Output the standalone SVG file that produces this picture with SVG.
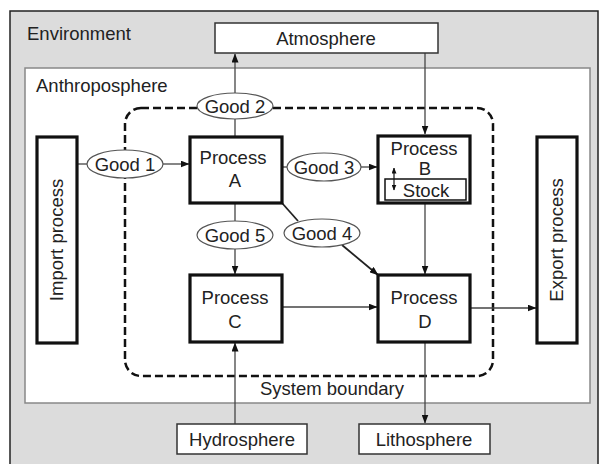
<svg xmlns="http://www.w3.org/2000/svg" width="599" height="464" viewBox="0 0 599 464">
<defs>
<marker id="ah" markerWidth="9" markerHeight="7" refX="8.5" refY="3.5" orient="auto" markerUnits="userSpaceOnUse">
<path d="M0,0 L9,3.5 L0,7 Z" fill="#111"/>
</marker>
<marker id="sh" markerWidth="6" markerHeight="5" refX="5.5" refY="2.5" orient="auto-start-reverse" markerUnits="userSpaceOnUse">
<path d="M0,0 L6,2.5 L0,5 Z" fill="#111"/>
</marker>
</defs>
<style>
text{font-family:"Liberation Sans",Arial,sans-serif;font-size:18.5px;fill:#222}
.c{text-anchor:middle}
.proc{fill:#fff;stroke:#111;stroke-width:3.2}
.sph{fill:#fff;stroke:#333;stroke-width:1.5}
.good{fill:#fff;stroke:#555;stroke-width:1.2}
.ln{fill:none;stroke:#444;stroke-width:1.3}
.lt{fill:none;stroke:#222;stroke-width:1.8}
</style>
<rect x="0" y="0" width="599" height="464" fill="#fff"/>
<g id="environment">
<rect x="10" y="11" width="588" height="460" fill="#dcdcdc" stroke="#222" stroke-width="1.5"/>
<text x="27" y="40">Environment</text>
</g>
<g id="anthroposphere">
<rect x="25" y="68" width="565" height="335" fill="#fff" stroke="#888" stroke-width="1.5"/>
<text x="36" y="92">Anthroposphere</text>
</g>
<g id="system-boundary">
<rect x="125" y="108" width="368" height="268" rx="16" ry="16" fill="none" stroke="#111" stroke-width="2.5" stroke-dasharray="8,4"/>
<text class="c" x="332" y="395">System boundary</text>
</g>
<g id="connectors">
<line class="ln" x1="235" y1="93" x2="235" y2="54" marker-end="url(#ah)"/>
<line class="ln" x1="235" y1="137" x2="235" y2="119"/>
<line class="ln" x1="425" y1="53" x2="425" y2="134" marker-end="url(#ah)"/>
<line class="ln" x1="77" y1="164" x2="87" y2="164"/>
<line class="ln" x1="163" y1="164" x2="189" y2="164" marker-end="url(#ah)"/>
<line class="ln" x1="282" y1="167" x2="287" y2="167"/>
<line class="ln" x1="361" y1="167" x2="377" y2="167" marker-end="url(#ah)"/>
<line class="ln" x1="235" y1="203" x2="235" y2="221"/>
<line class="ln" x1="235" y1="249" x2="235" y2="274" marker-end="url(#ah)"/>
<line class="lt" x1="282" y1="203" x2="298" y2="221"/>
<line class="lt" x1="342" y1="245" x2="378" y2="275" marker-end="url(#ah)"/>
<line class="ln" x1="425" y1="203" x2="425" y2="274" marker-end="url(#ah)"/>
<line class="ln" x1="282" y1="307" x2="377" y2="307" marker-end="url(#ah)"/>
<line class="ln" x1="470" y1="308" x2="536" y2="308" marker-end="url(#ah)"/>
<line class="ln" x1="425" y1="342" x2="425" y2="423" marker-end="url(#ah)"/>
<line class="ln" x1="235" y1="424" x2="235" y2="343" marker-end="url(#ah)"/>
</g>
<g id="atmosphere">
<rect class="sph" x="215" y="23" width="223" height="30"/>
<text class="c" x="326" y="45">Atmosphere</text>
</g>
<g id="hydrosphere">
<rect class="sph" x="177" y="424" width="130" height="30"/>
<text class="c" x="242" y="446">Hydrosphere</text>
</g>
<g id="lithosphere">
<rect class="sph" x="359" y="424" width="131" height="30"/>
<text class="c" x="424" y="446">Lithosphere</text>
</g>
<g id="import-process">
<rect class="proc" x="37" y="137" width="40" height="206"/>
<text class="c" transform="translate(63,240) rotate(-90)">Import process</text>
</g>
<g id="export-process">
<rect class="proc" x="537" y="137" width="40" height="206"/>
<text class="c" transform="translate(563,240) rotate(-90)">Export process</text>
</g>
<g id="process-a">
<rect class="proc" x="190" y="137" width="92" height="66"/>
<text class="c" x="233" y="164">Process</text>
<text class="c" x="235" y="187">A</text>
</g>
<g id="process-b">
<rect class="proc" x="378" y="136" width="92" height="67"/>
<text class="c" x="424" y="155">Process</text>
<text class="c" x="425" y="175">B</text>
<rect x="385" y="179" width="81" height="21" fill="none" stroke="#111" stroke-width="1.5"/>
<text class="c" x="426" y="197">Stock</text>
<line x1="394" y1="168" x2="394" y2="190" stroke="#111" stroke-width="1.2" marker-start="url(#sh)" marker-end="url(#sh)"/>
</g>
<g id="process-c">
<rect class="proc" x="190" y="275" width="92" height="67"/>
<text class="c" x="235" y="304">Process</text>
<text class="c" x="235" y="328">C</text>
</g>
<g id="process-d">
<rect class="proc" x="378" y="275" width="92" height="67"/>
<text class="c" x="424" y="304">Process</text>
<text class="c" x="425" y="328">D</text>
</g>
<g id="good-1">
<ellipse class="good" cx="125" cy="164" rx="38" ry="14"/>
<text class="c" x="125" y="171">Good 1</text>
</g>
<g id="good-2">
<ellipse class="good" cx="235" cy="106" rx="38" ry="13"/>
<text class="c" x="235" y="113">Good 2</text>
</g>
<g id="good-3">
<ellipse class="good" cx="324" cy="167" rx="37" ry="14"/>
<text class="c" x="324" y="174">Good 3</text>
</g>
<g id="good-4">
<ellipse class="good" cx="322" cy="233" rx="38" ry="14"/>
<text class="c" x="322" y="240">Good 4</text>
</g>
<g id="good-5">
<ellipse class="good" cx="235" cy="235" rx="38" ry="14"/>
<text class="c" x="235" y="242">Good 5</text>
</g>
</svg>
